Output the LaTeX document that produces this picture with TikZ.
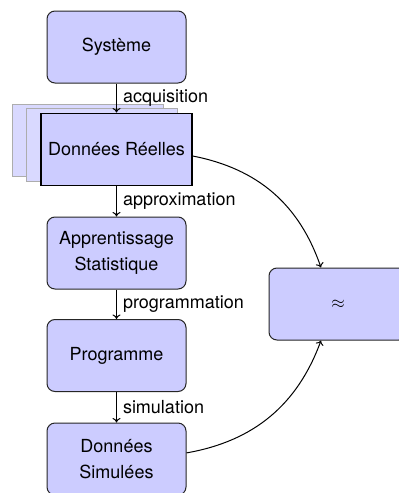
\documentclass[tikz,border=0pt]{standalone}
\usepackage{fontspec}
\setmainfont{TeX Gyre Heros}
\usetikzlibrary{arrows.meta}
\begin{document}
\begin{tikzpicture}[x=1pt,y=1pt,
  every node/.style={font=\fontsize{18pt}{26.5pt}\selectfont},
  box/.style={draw=black!85, fill=blue!20, line width=1pt, rounded corners=8pt,
    minimum width=139pt, minimum height=72pt, inner sep=0pt, align=center},
  realbox/.style={draw=black, fill=blue!20, line width=1.5pt,
    minimum width=151pt, minimum height=72.4pt, inner sep=0pt, align=center},
  shadowbox/.style={draw=black!32, fill=blue!15, line width=1.2pt,
    minimum width=151pt, minimum height=72.4pt, inner sep=0pt},
  flow/.style={line width=1pt, -{To[length=4.5pt,width=8pt]}},
  lbl/.style={right, inner sep=6pt}
]
\useasboundingbox (0,0) rectangle (399,-493);
\node[box] (sys) at (116.5,-47) {Système};
\node[shadowbox] (drsh1) at (87.8,-140.5) {};
\node[shadowbox] (drsh2) at (102.2,-145) {};
\node[realbox] (dr) at (116.5,-149.5) {Données Réelles};
\node[box] (app) at (116.5,-253) {Apprentissage\\Statistique};
\node[box] (prog) at (116.5,-355.5) {Programme};
\node[box] (sim) at (116.5,-459) {Données\\Simulées};
\node[box, minimum width=138pt] (apx) at (338,-304) {$\approx$};

\draw[flow] (sys) -- node[lbl] {acquisition} (dr);
\draw[flow] (dr) -- node[lbl] {approximation} (app);
\draw[flow] (app) -- node[lbl] {programmation} (prog);
\draw[flow] (prog) -- node[lbl] {simulation} (sim);
\draw[flow] (dr) to[bend left] (apx);
\draw[flow] (sim) to[bend right] (apx);
\end{tikzpicture}
\end{document}
